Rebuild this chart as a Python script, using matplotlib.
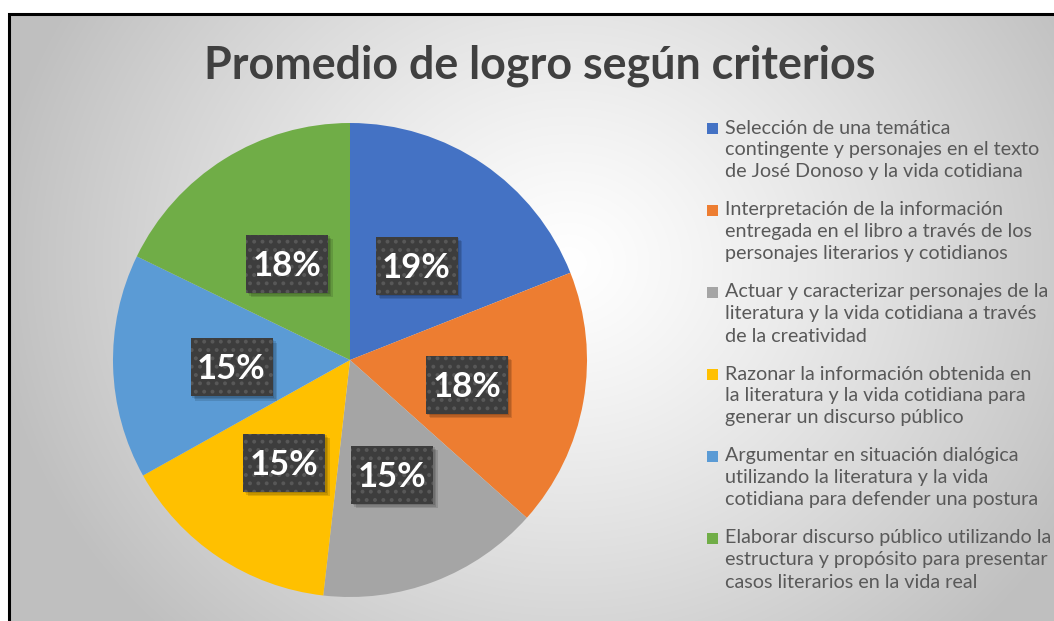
import numpy as np
import matplotlib
matplotlib.use("Agg")
import matplotlib.pyplot as plt
from matplotlib.patches import Rectangle

# ---- data ----
categories = [
    "Selección de una temática\ncontingente y personajes en el texto\nde José Donoso y la vida cotidiana",
    "Interpretación de la información\nentregada en el libro a través de los\npersonajes literarios y cotidianos",
    "Actuar y caracterizar personajes de la\nliteratura y la vida cotidiana a través\nde la creatividad",
    "Razonar la información obtenida en\nla literatura y la vida cotidiana para\ngenerar un discurso público",
    "Argumentar en situación dialógica\nutilizando la literatura y la vida\ncotidiana para defender una postura",
    "Elaborar discurso público utilizando la\nestructura y propósito para presentar\ncasos literarios en la vida real",
]
values = [19.0, 17.6, 15.2, 15.1, 15.3, 17.8]
colors = ["#4472C4", "#ED7D31", "#A5A5A5", "#FFC000", "#5B9BD5", "#70AD47"]
title = "Promedio de logro según criterios"

W, H = 1054, 621
plt.rcParams['font.family'] = ['Lato', 'DejaVu Sans']
plt.rcParams['hatch.linewidth'] = 1.6
fig = plt.figure(figsize=(W / 100, H / 100), dpi=100)
fig.patch.set_facecolor("white")

def fx(px):
    return px / W

def fy(py):
    return 1 - py / H

# background gradient
bg = fig.add_axes([fx(8), 0, 1 - fx(8), fy(13)])
bg.set_axis_off()
yy, xx = np.mgrid[0:608, 0:1046]
cx, cy = 560, 250
d = np.sqrt(((xx - cx) / 580.0) ** 2 + ((yy - cy) / 520.0) ** 2)
d = np.clip(d, 0, 1)
shade = 1.0 - 0.25 * d ** 1.2
img = np.dstack([shade, shade, shade])
bg.imshow(img, aspect="auto", extent=[0, 1, 0, 1], origin="upper")
bg.set_xlim(0, 1)
bg.set_ylim(0, 1)
# black frame
fig.add_artist(Rectangle((fx(9), -0.01), 1.2, fy(14) + 0.01, transform=fig.transFigure,
                         fill=False, edgecolor="black", linewidth=2.2, zorder=5))

# pie
R = 237
cxp, cyp = 350, 360
ax = fig.add_axes([fx(cxp - R), fy(cyp + R), 2 * R / W, 2 * R / H])
wedges, texts, autotexts = ax.pie(
    values, colors=colors, startangle=90, counterclock=False,
    autopct=lambda p: f"{p:.0f}%", pctdistance=0.5,
    wedgeprops=dict(linewidth=0),
    textprops=dict(color="white", fontsize=25, fontweight="bold"))
ax.set_xlim(-1, 1)
ax.set_ylim(-1, 1)
ax.set_aspect("equal")

# label boxes (fixed pixel size, centred on each autopct label)
bw, bh = 82, 58
shift = 6  # px downward
for t in autotexts:
    t.set_ha("center")
    t.set_va("center")
    t.set_zorder(6)
    x, y = t.get_position()
    px, py = ax.transData.transform((x, y))
    py -= shift
    t.set_position(ax.transData.inverted().transform((px, py)))
    by = py + 2
    # soft shadow
    for k in range(3):
        off = 1.5 * (k + 1)
        ax.add_patch(Rectangle(((px - bw / 2 + off) / W, (by - bh / 2 - off) / H),
                               bw / W, bh / H, transform=fig.transFigure,
                               facecolor="black", alpha=0.12, edgecolor="none", zorder=4))
    ax.add_patch(Rectangle(((px - bw / 2) / W, (by - bh / 2) / H), bw / W, bh / H,
                           transform=fig.transFigure, facecolor="#3D3D3D",
                           edgecolor="#585858", linewidth=0, hatch="..", zorder=5))

# title
fig.text(fx(540), fy(66), title, ha="center", va="center", fontsize=32.3,
         fontweight="bold", color="#404040")

# legend (manual)
y0 = 128
step = 82
line = 22
for i, (lab, c) in enumerate(zip(categories, colors)):
    ytop = y0 + i * step
    fig.add_artist(Rectangle((fx(707), fy(ytop + 6)), 11 / W, 11 / H,
                             transform=fig.transFigure, facecolor=c, edgecolor="none"))
    for j, ln in enumerate(lab.split("\n")):
        fig.text(fx(725), fy(ytop + j * line), ln, ha="left", va="center",
                 fontsize=14.2, color="#595959")

fig.savefig("out.png", dpi=100)
